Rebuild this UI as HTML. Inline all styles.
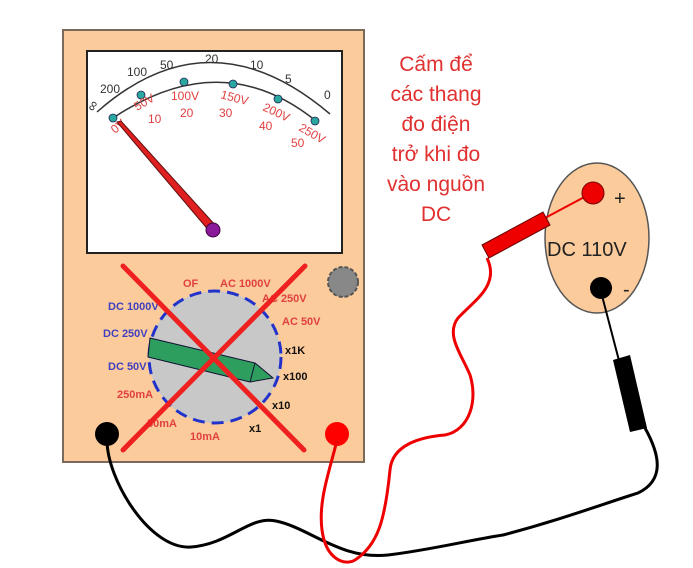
<!DOCTYPE html>
<html><head><meta charset="utf-8"><style>
html,body{margin:0;padding:0;background:#fff;width:693px;height:568px;overflow:hidden}
svg{display:block;font-family:"Liberation Sans",Arial,sans-serif}
</style></head><body>
<svg width="693" height="568" viewBox="0 0 693 568" xmlns="http://www.w3.org/2000/svg">
<rect x="63" y="30" width="301" height="432" fill="#fccb9b" stroke="#7a6a5a" stroke-width="2"/>
<rect x="87" y="51" width="255" height="202" fill="#fff" stroke="#222" stroke-width="2"/>
<path d="M97,112 Q210,12 330,114" fill="none" stroke="#333" stroke-width="1.5"/>
<path d="M113,118 Q222,45 316,121" fill="none" stroke="#333" stroke-width="1.5"/>
<g fill="#2aa8a0" stroke="#225" stroke-width="0.8">
<circle cx="113" cy="118" r="4"/><circle cx="141" cy="95" r="4"/><circle cx="184" cy="82" r="4"/>
<circle cx="233" cy="84" r="4"/><circle cx="278" cy="99" r="4"/><circle cx="315" cy="121" r="4"/>
</g>
<g font-size="12" fill="#333">
<text x="88" y="110" font-size="14" transform="rotate(-60 93 106)">∞</text><text x="100" y="93">200</text><text x="127" y="76">100</text>
<text x="160" y="69">50</text><text x="205" y="63">20</text><text x="250" y="69">10</text>
<text x="285" y="83">5</text><text x="324" y="99">0</text>
</g>
<g font-size="12" fill="#e04040">
<text x="137" y="111" transform="rotate(-30 137 111)">50V</text>
<text x="171" y="100">100V</text>
<text x="220" y="98" transform="rotate(15 220 98)">150V</text>
<text x="262" y="110" transform="rotate(25 262 110)">200V</text>
<text x="298" y="130" transform="rotate(30 298 130)">250V</text>
<text x="148" y="123">10</text><text x="180" y="117">20</text><text x="219" y="117">30</text>
<text x="259" y="130">40</text><text x="291" y="147">50</text>
<text x="115" y="134" transform="rotate(-40 115 134)">0V</text>
</g>
<polygon points="117,122 121,121 216,226 210,232" fill="#e02020" stroke="#601010" stroke-width="1"/>
<circle cx="213" cy="230" r="7" fill="#8a1a9a" stroke="#400040"/>
<circle cx="343" cy="282" r="15" fill="#888" stroke="#555" stroke-width="2" stroke-dasharray="4 2"/>
<circle cx="215" cy="357" r="66" fill="#c8c8c8" stroke="#2233cc" stroke-width="3" stroke-dasharray="12 7"/>
<polygon points="150,338 255,363 273,378 250,382 148,357" fill="#2e9e5e" stroke="#113" stroke-width="1"/>
<line x1="255" y1="363" x2="250" y2="382" stroke="#113"/>
<g font-size="11" font-weight="bold">
<text x="183" y="287" fill="#e04040">OF</text>
<text x="220" y="287" fill="#e04040">AC 1000V</text>
<text x="262" y="302" fill="#e04040">AC 250V</text>
<text x="282" y="325" fill="#e04040">AC 50V</text>
<text x="108" y="310" fill="#4040c0">DC 1000V</text>
<text x="103" y="337" fill="#4040c0">DC 250V</text>
<text x="108" y="370" fill="#4040c0">DC 50V</text>
<text x="117" y="398" fill="#e04040">250mA</text>
<text x="147" y="427" fill="#e04040">50mA</text>
<text x="190" y="440" fill="#e04040">10mA</text>
<text x="285" y="354" fill="#111">x1K</text>
<text x="283" y="380" fill="#111">x100</text>
<text x="272" y="409" fill="#111">x10</text>
<text x="249" y="432" fill="#111">x1</text>
</g>
<g stroke="#ee2020" stroke-width="5" stroke-linecap="round">
<line x1="123" y1="266" x2="304" y2="450"/>
<line x1="305" y1="266" x2="123" y2="450"/>
</g>
<circle cx="107" cy="434" r="12" fill="#000"/>
<circle cx="337" cy="434" r="12" fill="#f00"/>
<path d="M107,440 C107,480 150,550 191,547 C230,544 250,515 276,521 C310,528 340,560 388,555 C430,550 470,540 503,535 C560,520 600,505 638,493 C665,480 660,455 645,428" fill="none" stroke="#000" stroke-width="3"/>
<path d="M337,440 C330,470 318,500 322,530 C326,560 345,566 355,560 C378,545 385,520 390,470 C392,445 420,437 445,435 C470,430 478,400 470,375 C462,355 445,335 458,318 C475,300 500,285 487,258" fill="none" stroke="#e00" stroke-width="3"/>
<g font-size="21" fill="#e03030" text-anchor="middle">
<text x="436" y="71">Cấm để</text><text x="436" y="101">các thang</text>
<text x="436" y="131">đo điện</text><text x="436" y="161">trở khi đo</text>
<text x="436" y="191">vào nguồn</text><text x="436" y="221">DC</text>
</g>
<ellipse cx="597" cy="238" rx="52" ry="75" fill="#fccb9b" stroke="#555" stroke-width="1.5"/>
<line x1="545" y1="218" x2="590" y2="194" stroke="#e00" stroke-width="2"/>
<line x1="600" y1="288" x2="628" y2="395" stroke="#000" stroke-width="2"/>
<polygon points="482,245 543,212 550,225 489,258" fill="#e00" stroke="#600" stroke-width="1"/>
<polygon points="613,360 630,355 647,428 630,432" fill="#000"/>
<circle cx="593" cy="193" r="11" fill="#e00" stroke="#700"/>
<circle cx="601" cy="288" r="11" fill="#000"/>
<text x="614" y="205" font-size="20" fill="#222">+</text>
<text x="623" y="296" font-size="20" fill="#222">-</text>
<text x="547" y="256" font-size="20" fill="#222">DC 110V</text>
</svg>
</body></html>
